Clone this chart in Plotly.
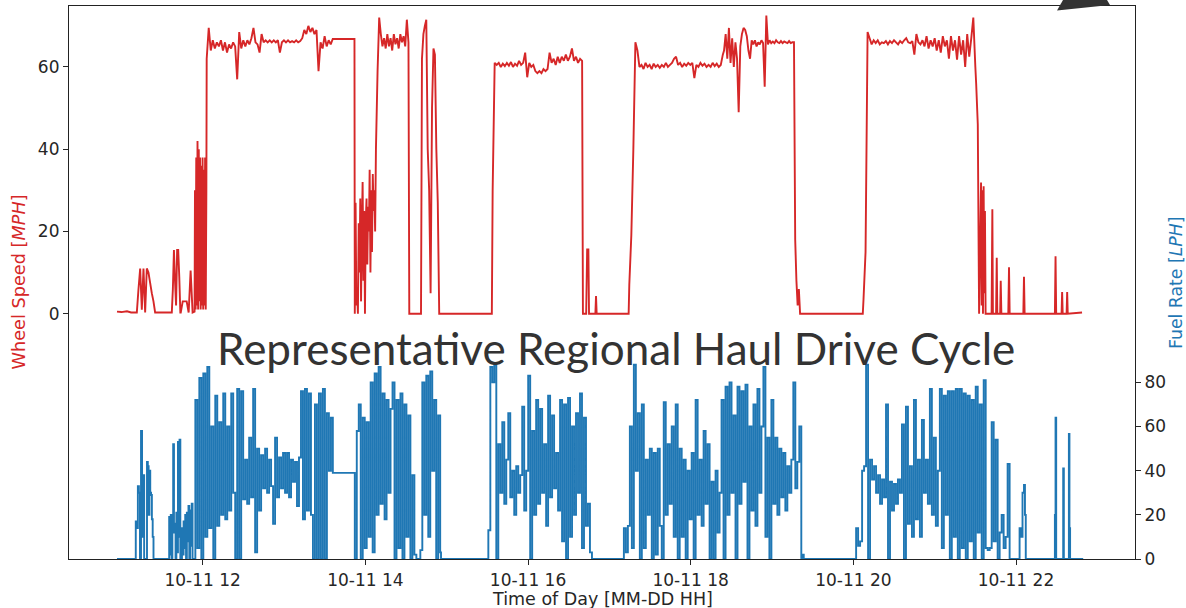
import numpy as np
import pandas as pd
import plotly.graph_objects as go

DAY = pd.Timestamp("2017-10-11")

# ---------------- Wheel speed [MPH] ----------------
# isolated points: (hour of day, mph)
speed_sparse_hour = [10.946, 11.000, 11.069, 11.120, 11.183, 11.600, 13.866,
                     14.540, 14.684, 14.915, 15.555,
                     16.675, 16.715, 16.727, 16.742, 16.750, 16.828, 16.836, 16.844, 17.237,
                     19.350, 20.116, 21.510, 21.530, 21.546,
                     21.570, 21.578, 21.586, 21.594, 21.602, 21.610, 21.618, 21.626,
                     21.700, 21.709, 21.716, 21.755, 21.763, 21.770, 21.805, 21.812, 21.820,
                     21.905, 21.914, 21.922, 22.090, 22.098, 22.106, 22.478, 22.486, 22.494,
                     22.560, 22.567, 22.574, 22.622, 22.629, 22.636, 22.812]
speed_sparse_mph = [0.5, 0.4, 0.6, 0.3, 0.3, 0.3, 66.8,
                    0, 0, 0, 0,
                    0, 0, 15.6, 15.6, 0, 0, 4.3, 0, 0,
                    0, 0, 56, 46, 0,
                    31.9, 2, 30, 0, 31, 5, 25, 0,
                    0, 25.4, 0, 0, 13.6, 0, 0, 8, 0,
                    0, 11.3, 0, 0, 9, 0, 0, 14, 0,
                    0, 5.3, 0, 0, 5.3, 0, 0.3]

# densely sampled stretches: start hour, end hour, evenly spaced readings
speed_dense_start = [11.190, 11.620, 11.730, 11.905, 12.049, 13.870, 14.130,
                     14.696, 15.565, 17.245, 18.410, 19.285, 20.125]
speed_dense_end = [11.415, 11.725, 11.900, 12.045, 13.599, 14.120, 14.530,
                   14.908, 16.665, 18.395, 19.270, 19.345, 21.500]
speed_dense_mph = [
    [0.3, 6, 11, 1, 11, 0.3, 11, 10, 7.5, 5, 3, 0.3],
    [0.3, 6, 15.5, 8, 2, 15.5, 15.5, 9, 0.3],
    [0.3, 3, 3, 3, 0.3, 10.5, 0.3, 0.5],
    [30, 1, 38, 2, 42, 1, 40, 3, 38, 1, 36, 2, 38, 1, 35, 2, 38, 1, 30],
    [62, 69.5, 64, 66.5, 64.5, 66, 65, 66.5, 64, 66, 63.5, 65.5, 64.5, 66, 65, 57,
     68.5, 64.5, 66.5, 65, 66.5, 65.5, 67, 69.5, 66, 65.5, 63.5, 68, 66, 66.5, 66,
     66.5, 66, 66.5, 66, 66.5, 63.5, 66, 66.5, 66, 66.5, 66, 66.3, 66, 66.5, 66,
     66.3, 67, 69, 68, 70, 68.5, 69.5, 68, 69, 59, 66, 64.5, 67.5, 65, 66.5, 65.5, 66.8],
    [0, 27, 2, 5, 0, 22, 10, 28, 3, 20, 32, 8, 25, 0, 22, 28, 12, 26, 20, 35, 10,
     30, 15, 34, 25, 30, 20],
    [40, 59, 72, 68, 65, 67, 64.5, 68, 65, 67, 64, 68, 65.5, 67, 64.5, 68, 66, 67.5,
     65, 71.5, 66],
    [62, 68, 70, 71.5, 40, 30, 5, 50, 64.5, 63, 40, 27, 0],
    [30, 61, 60.5, 61, 60, 60.8, 60.2, 61, 60.3, 61.2, 60, 60.8, 60.3, 61.5, 60.5,
     61, 63.5, 57.5, 61, 60, 60.5, 59, 58.5, 59, 58.5, 59.5, 59, 59.5, 63.5, 61, 62,
     60.5, 62.5, 61, 62.5, 61.5, 63, 61.5, 62.5, 64.5, 61.5, 62.5, 61, 62, 61.5],
    [7, 19, 40, 66, 64, 60, 60.5, 59.5, 61, 60, 60.5, 59.5, 60.8, 60, 60.5, 59.8,
     60.5, 60, 61, 60, 60.5, 61, 62, 62.5, 60.5, 61, 60, 60.8, 60.3, 61, 60.5, 61,
     57.3, 60.5, 60, 61, 60.3, 60.8, 60, 60.5, 60, 61, 60.2, 60.8, 60, 60.5, 63],
    [64, 68, 62, 69.5, 61, 67, 60, 66, 62, 49, 65, 68, 69.5, 69, 67.5, 64, 62, 66.5,
     65.5, 66.5, 65, 66, 65.5, 66.5, 65.8, 55.2, 72.5, 65.5, 66.5, 65.8, 66.2, 65.8,
     66.5, 66, 65.8, 66.3, 65.8, 66.2, 66, 65.8, 66.3, 65.8, 66, 66],
    [18, 8, 2, 6, 0],
    [3.5, 15, 68.5, 67, 65.5, 66.5, 65.8, 66.5, 65.5, 66, 65.8, 66.3, 65.5, 66.3,
     65.8, 66.5, 66, 65.5, 66.3, 65.8, 66.5, 67, 66, 65.8, 66.3, 63, 68, 66, 65.5,
     66.5, 65, 67.5, 64.5, 66.5, 65, 67, 64, 66.5, 63.5, 67.5, 65, 66.5, 62, 67.5,
     64, 66.5, 61.8, 67.5, 63, 66.5, 60, 68, 62.5, 67, 72, 60],
]

# ---------------- Fuel rate [LPH] ----------------
fuel_sparse_hour = [10.946, 11.170, 13.600, 13.866, 14.930, 15.505, 19.375, 19.390,
                    20.028, 22.060, 22.080, 22.098, 22.110, 22.120, 22.470, 22.478,
                    22.486, 22.494, 22.572, 22.580, 22.588, 22.642, 22.650, 22.657,
                    22.665, 22.826]
fuel_sparse_lph = [0, 0, 39, 39, 0, 0, 2, 0,
                   0, 10, 30, 33.5, 20, 0, 0, 20,
                   64, 0, 0, 41, 0, 0, 56.6, 14,
                   0, 0]

fuel_dense_start = [11.177, 11.305, 11.578, 11.735, 11.885, 13.870, 15.512, 17.154, 20.034]
fuel_dense_end = [11.280, 11.395, 11.725, 11.875, 13.576, 14.920, 16.786, 19.360, 22.044]
fuel_dense_lph = [
    [17, 14, 33, 30, 0, 58, 10, 38, 0],
    [0, 44, 42, 20, 40, 30, 29, 18, 10, 0],
    [0, 19, 2, 20, 0, 18, 52, 12, 16, 0, 21, 3, 53, 10, 54, 0],
    [0, 14, 2, 17, 5, 20, 0, 21, 8, 24, 0, 22, 6, 25, 0],
    [0, 72, 5, 82, 0, 84, 10, 87, 14, 60, 0, 74, 15, 62, 20, 75, 18, 60, 22, 75,
     30, 0, 77, 0, 76, 27, 45, 25, 55, 28, 77, 3, 50, 22, 47, 32, 50, 30, 45, 33,
     16, 55, 28, 46, 32, 48, 30, 48, 28, 45, 35, 44, 24, 46, 76, 18, 77, 22, 75, 20,
     0, 70, 0, 75, 0, 77, 0, 66, 40, 64],
    [0, 58, 70, 0, 64, 5, 62, 10, 80, 3, 84, 20, 87, 25, 75, 18, 72, 30, 68, 80,
     0, 72, 5, 75, 0, 70, 10, 65, 0, 38, 2, 0, 0, 4, 80, 20, 83, 10, 85, 40, 72, 0,
     65, 3],
    [13, 87, 80, 88, 0, 52, 30, 62, 25, 45, 66, 28, 40, 20, 42, 30, 38, 69, 22, 40,
     83, 0, 58, 20, 72, 25, 68, 30, 52, 15, 74, 28, 65, 32, 48, 22, 72, 8, 70, 0,
     73, 10, 60, 20, 66, 30, 75, 5, 64, 15, 25, 3, 0],
    [0, 14, 3, 15, 60, 5, 88, 40, 66, 0, 70, 5, 45, 20, 50, 0, 48, 2, 50, 15,
     0, 71, 20, 52, 25, 60, 10, 70, 0, 50, 10, 45, 0, 40, 18, 48, 0, 72, 20, 45,
     15, 58, 25, 52, 0, 35, 0, 40, 12, 30, 72, 0, 78, 20, 80, 30, 65, 0, 78, 25,
     76, 35, 79, 0, 60, 22, 70, 15, 77, 30, 60, 87, 10, 55, 0, 72, 25, 55, 20, 50,
     28, 48, 22, 42, 30, 45, 80, 32, 44, 60, 0],
    [14, 6, 8, 40, 42, 88, 0, 45, 36, 42, 30, 38, 25, 36, 28, 70, 0, 35, 22, 34,
     25, 36, 30, 61, 0, 69, 16, 42, 10, 72, 18, 45, 10, 63, 30, 45, 25, 77, 20, 55,
     15, 40, 77, 5, 74, 20, 76, 0, 76, 10, 77, 0, 77, 5, 75, 0, 74, 8, 72, 0,
     78, 12, 70, 0, 81, 5, 4, 5, 62, 8, 54, 0, 12, 20, 5, 10, 43, 0, 0, 0,
     0, 0, 14],
]

# x-axis ticks
tick_hours = [12, 14, 16, 18, 20, 22]
tick_text = ["10-11 12", "10-11 14", "10-11 16", "10-11 18", "10-11 20", "10-11 22"]


def build(sp_h, sp_v, starts, ends, vals):
    hrs = list(sp_h)
    vv = list(sp_v)
    for s, e, v in zip(starts, ends, vals):
        hrs += list(np.linspace(s, e, len(v)))
        vv += list(v)
    hrs = np.array(hrs)
    vv = np.array(vv, dtype=float)
    order = np.argsort(hrs, kind="stable")
    return hrs[order], vv[order]


def to_time(h):
    return DAY + pd.to_timedelta(np.asarray(h), unit="h")


sh, sv = build(speed_sparse_hour, speed_sparse_mph, speed_dense_start, speed_dense_end, speed_dense_mph)
fh, fv = build(fuel_sparse_hour, fuel_sparse_lph, fuel_dense_start, fuel_dense_end, fuel_dense_lph)

RED = "#d62728"
BLUE = "#1f77b4"
TXT = "#262626"
TICKFONT = dict(family="DejaVu Sans", size=17, color=TXT)

fig = go.Figure()
fig.add_trace(go.Scatter(x=to_time(sh), y=sv, mode="lines",
                         line=dict(color=RED, width=1.9, simplify=False),
                         yaxis="y", hoverinfo="skip"))
fig.add_trace(go.Scatter(x=to_time(fh), y=fv, mode="lines",
                         line=dict(color=BLUE, width=1.9, shape="hv", simplify=False),
                         yaxis="y2", hoverinfo="skip"))

x_lo = DAY + pd.to_timedelta(10.356, unit="h")
x_hi = DAY + pd.to_timedelta(23.463, unit="h")

fig.update_layout(
    width=1186, height=608, autosize=False,
    margin=dict(l=69, r=51, t=6, b=49, pad=0),
    paper_bgcolor="white", plot_bgcolor="white",
    showlegend=False,
    xaxis=dict(type="date", range=[x_lo, x_hi],
               tickvals=list(to_time(tick_hours)), ticktext=tick_text,
               tickfont=TICKFONT, ticks="outside", ticklen=5, tickcolor=TXT,
               showline=True, linecolor="#222", linewidth=1.2, mirror=True,
               showgrid=False, zeroline=False),
    yaxis=dict(range=[-59.65, 74.83], tickvals=[0, 20, 40, 60],
               tickfont=TICKFONT, ticks="outside", ticklen=5, tickcolor=TXT,
               showline=True, linecolor="#222", linewidth=1.2,
               showgrid=False, zeroline=False),
    yaxis2=dict(range=[0, 250.5], tickvals=[0, 20, 40, 60, 80], overlaying="y", side="right",
                tickfont=TICKFONT, ticks="outside", ticklen=5, tickcolor=TXT,
                showline=True, linecolor="#222", linewidth=1.2,
                showgrid=False, zeroline=False),
)

W_PLOT = 1186 - 69 - 51
H_PLOT = 608 - 6 - 49


def px(xp):
    return (xp - 69) / W_PLOT


def py(yp):
    return (559 - yp) / H_PLOT


fig.add_annotation(text="Time of Day [MM-DD HH]", xref="paper", yref="paper",
                   x=0.5, y=py(598.5), xanchor="center", yanchor="middle", showarrow=False,
                   font=dict(family="DejaVu Sans", size=17.5, color=TXT))
fig.add_annotation(text="Wheel Speed [<i>MPH</i>]", xref="paper", yref="paper",
                   x=px(18), y=0.5, textangle=-90, xanchor="center", yanchor="middle",
                   showarrow=False, font=dict(family="DejaVu Sans", size=17.7, color=RED))
fig.add_annotation(text="Fuel Rate [<i>LPH</i>]", xref="paper", yref="paper",
                   x=px(1175.5), y=0.5, textangle=-90, xanchor="center", yanchor="middle",
                   showarrow=False, font=dict(family="DejaVu Sans", size=17.3, color=BLUE))
fig.add_annotation(text="Representative Regional Haul Drive Cycle", xref="paper", yref="paper",
                   x=px(615.5), y=py(348), xanchor="center", yanchor="middle", showarrow=False,
                   font=dict(family="Lato", size=44, color="#333333"))

# dark callout arrow tip peeking in at the top right
fig.add_shape(type="path", xref="paper", yref="paper",
              path=f"M {px(1057)},{py(10.5)} L {px(1063)},{py(0)} L {px(1107)},{py(0)} L {px(1110)},{py(5)} Z",
              fillcolor="#333333", line=dict(width=0), layer="above")

fig.write_html("out.html")
